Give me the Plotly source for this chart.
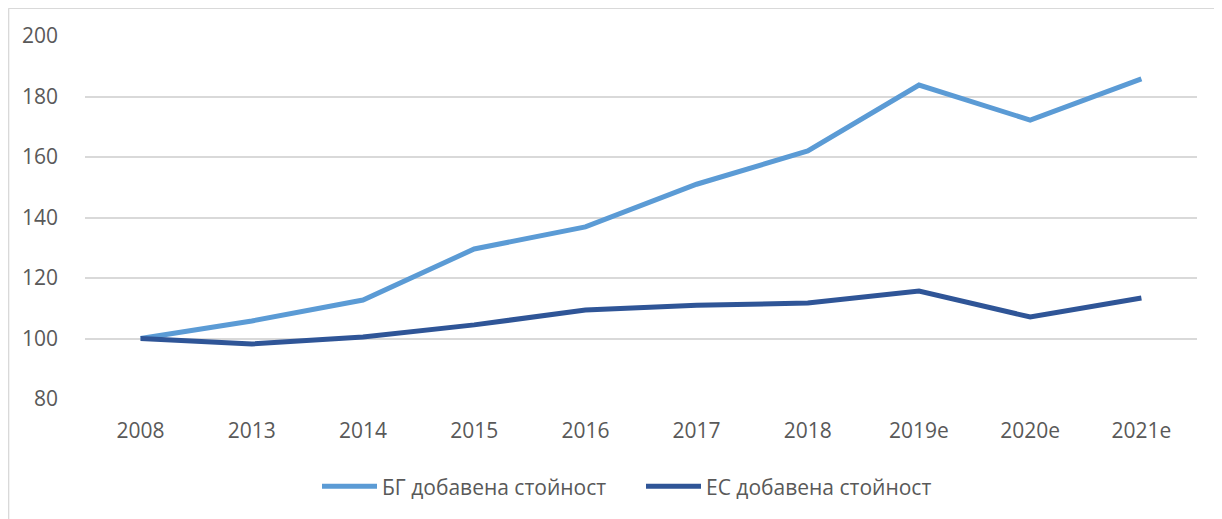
import plotly.graph_objects as go

categories = ["2008", "2013", "2014", "2015", "2016", "2017", "2018", "2019e", "2020e", "2021e"]
bg_values = [100, 105.8, 112.7, 129.6, 136.9, 151.0, 162.0, 183.8, 172.2, 185.8]
eu_values = [100, 98.2, 100.5, 104.5, 109.4, 111.0, 111.7, 115.7, 107.1, 113.4]
series_names = ["БГ добавена стойност", "ЕС добавена стойност"]
y_ticks = [80, 100, 120, 140, 160, 180, 200]

# page has an 8px body margin, so the figure starts at (8, 8)
W, H = 1214, 511
L, R, T, B = 77, 25, 28, 120

fig = go.Figure()
fig.add_trace(go.Scatter(x=categories, y=bg_values, mode="lines", name=series_names[0],
                         line=dict(color="#5B9BD5", width=5)))
fig.add_trace(go.Scatter(x=categories, y=eu_values, mode="lines", name=series_names[1],
                         line=dict(color="#2F5597", width=5)))

pw = W - L - R
ph = H - T - B
bx = -L / pw + 0.0005
by = 1 + T / ph - 0.001

fig.update_layout(
    width=W, height=H,
    margin=dict(l=L, r=R, t=T, b=B, autoexpand=False),
    paper_bgcolor="white", plot_bgcolor="white",
    font=dict(family="Open Sans, Liberation Sans, sans-serif", size=21, color="#595959"),
    xaxis=dict(type="category", range=[-0.5, 9.5], showgrid=False, showline=False, zeroline=False,
               ticks="", tickfont=dict(size=21, color="#595959"), ticklabelstandoff=17),
    yaxis=dict(range=[80, 200], tickvals=y_ticks, showgrid=True, gridcolor="#D9D9D9",
               gridwidth=1.5, zeroline=False, showline=False, ticks="",
               tickfont=dict(size=21, color="#595959"), ticklabelstandoff=26),
    legend=dict(orientation="h", x=0.5, xanchor="center", y=-0.185, yanchor="top",
                font=dict(size=21, color="#595959"), itemwidth=55, tracegroupgap=0,
                entrywidth=254, entrywidthmode="pixels"),
    showlegend=True,
    shapes=[
        dict(type="line", xref="paper", yref="paper", x0=bx, x1=1 + R / pw, y0=by, y1=by,
             line=dict(color="#D9D9D9", width=1.5)),
        dict(type="line", xref="paper", yref="paper", x0=bx, x1=bx, y0=by, y1=-B / ph,
             line=dict(color="#D9D9D9", width=1.5)),
    ],
)

fig.write_html("out.html")
